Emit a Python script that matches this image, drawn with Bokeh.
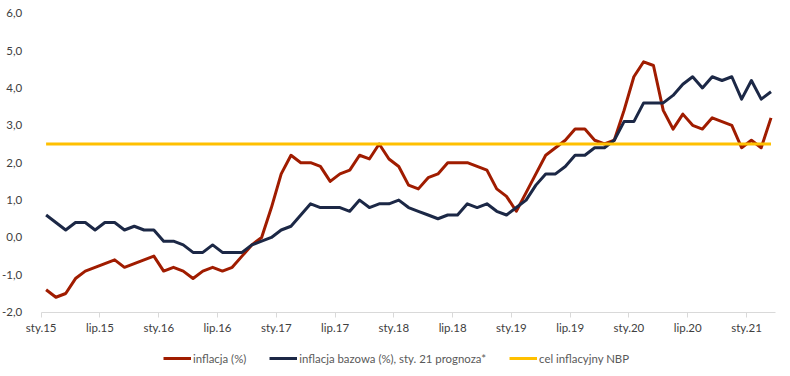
from bokeh.plotting import figure
from bokeh.models import Range1d, FixedTicker, Legend, LegendItem
from bokeh.embed import file_html
from bokeh.resources import INLINE

# Monthly data, Jan 2015 - Mar 2021
cpi = [-1.4, -1.6, -1.5, -1.1, -0.9, -0.8, -0.7, -0.6, -0.8, -0.7, -0.6, -0.5,
       -0.9, -0.8, -0.9, -1.1, -0.9, -0.8, -0.9, -0.8, -0.5, -0.2, 0.0, 0.8,
       1.7, 2.2, 2.0, 2.0, 1.9, 1.5, 1.7, 1.8, 2.2, 2.1, 2.5, 2.1,
       1.9, 1.4, 1.3, 1.6, 1.7, 2.0, 2.0, 2.0, 1.9, 1.8, 1.3, 1.1,
       0.7, 1.2, 1.7, 2.2, 2.4, 2.6, 2.9, 2.9, 2.6, 2.5, 2.6, 3.4,
       4.3, 4.7, 4.6, 3.4, 2.9, 3.3, 3.0, 2.9, 3.2, 3.1, 3.0, 2.4,
       2.6, 2.4, 3.2]
core = [0.6, 0.4, 0.2, 0.4, 0.4, 0.2, 0.4, 0.4, 0.2, 0.3, 0.2, 0.2,
        -0.1, -0.1, -0.2, -0.4, -0.4, -0.2, -0.4, -0.4, -0.4, -0.2, -0.1, 0.0,
        0.2, 0.3, 0.6, 0.9, 0.8, 0.8, 0.8, 0.7, 1.0, 0.8, 0.9, 0.9,
        1.0, 0.8, 0.7, 0.6, 0.5, 0.6, 0.6, 0.9, 0.8, 0.9, 0.7, 0.6,
        0.8, 1.0, 1.4, 1.7, 1.7, 1.9, 2.2, 2.2, 2.4, 2.4, 2.6, 3.1,
        3.1, 3.6, 3.6, 3.6, 3.8, 4.1, 4.3, 4.0, 4.3, 4.2, 4.3, 3.7,
        4.2, 3.7, 3.9]
nbp_target = 2.5

x_tick_labels = ["sty.15", "lip.15", "sty.16", "lip.16", "sty.17", "lip.17", "sty.18",
                 "lip.18", "sty.19", "lip.19", "sty.20", "lip.20", "sty.21"]
y_ticks = [-2, -1, 0, 1, 2, 3, 4, 5, 6]
y_tick_labels = ["-2,0", "-1,0", "0,0", "1,0", "2,0", "3,0", "4,0", "5,0", "6,0"]
series_names = ["inflacja (%)", "inflacja bazowa (%), sty. 21 prognoza*", "cel inflacyjny NBP"]

RED = "#A01C00"
NAVY = "#1C2846"
GOLD = "#FFC000"
FONT = "Lato"

n = len(cpi)
x = [i + 0.5 for i in range(n)]
target = [nbp_target] * n
x_ticks = list(range(0, n, 6))

# layout (pixels): the plotting band inside a full-size frame
W, H = 790, 376
BAND_L, BAND_R = 40.7, 775.4
BAND_T, BAND_B = 12.7, 311.7
y_min, y_max = y_ticks[0], y_ticks[-1]
px_x = (BAND_R - BAND_L) / n
px_y = (BAND_B - BAND_T) / (y_max - y_min)
x_range = Range1d(-BAND_L / px_x, n + (W - BAND_R) / px_x)
y_range = Range1d(y_min - (H - BAND_B) / px_y, y_max + BAND_T / px_y)

p = figure(width=W, height=H, output_backend="svg", toolbar_location=None,
           x_range=x_range, y_range=y_range,
           min_border_left=0, min_border_right=0, min_border_top=0, min_border_bottom=0)

r_cpi = p.line(x, cpi, line_color=RED, line_width=3, line_join="round")
r_core = p.line(x, core, line_color=NAVY, line_width=3, line_join="round")
r_tgt = p.line(x, target, line_color=GOLD, line_width=3)

p.xgrid.visible = False
p.ygrid.visible = False
p.outline_line_color = None
p.background_fill_color = "white"

xa = p.xaxis[0]
xa.fixed_location = y_min
xa.bounds = (0, n)
xa.ticker = FixedTicker(ticks=x_ticks)
xa.major_label_overrides = {t: lab for t, lab in zip(x_ticks, x_tick_labels)}
xa.axis_line_color = "#D9D9D9"
xa.axis_line_width = 1
xa.major_tick_line_color = "#D9D9D9"
xa.major_tick_out = 5
xa.major_tick_in = 0
xa.minor_tick_line_color = None
xa.major_label_standoff = 4
xa.major_label_text_font = FONT
xa.major_label_text_font_size = "11.5px"
xa.major_label_text_color = "#404040"

ya = p.yaxis[0]
ya.fixed_location = 0
ya.ticker = FixedTicker(ticks=y_ticks)
ya.major_label_overrides = {t: lab for t, lab in zip(y_ticks, y_tick_labels)}
ya.axis_line_color = None
ya.major_tick_line_color = None
ya.minor_tick_line_color = None
ya.major_label_standoff = 13
ya.major_label_text_font = FONT
ya.major_label_text_font_size = "11.5px"
ya.major_label_text_color = "#404040"

legend = Legend(items=[LegendItem(label=series_names[0], renderers=[r_cpi]),
                       LegendItem(label=series_names[1], renderers=[r_core]),
                       LegendItem(label=series_names[2], renderers=[r_tgt])],
                orientation="horizontal", location=(163, 10),
                glyph_width=28, glyph_height=16, label_height=16, label_standoff=2,
                spacing=23, padding=0, margin=0, border_line_color=None,
                background_fill_alpha=0, label_text_font=FONT,
                label_text_font_size="11.4px", label_text_color="#595959")
p.add_layout(legend, "center")

open("out.html", "w").write(file_html(p, INLINE))
